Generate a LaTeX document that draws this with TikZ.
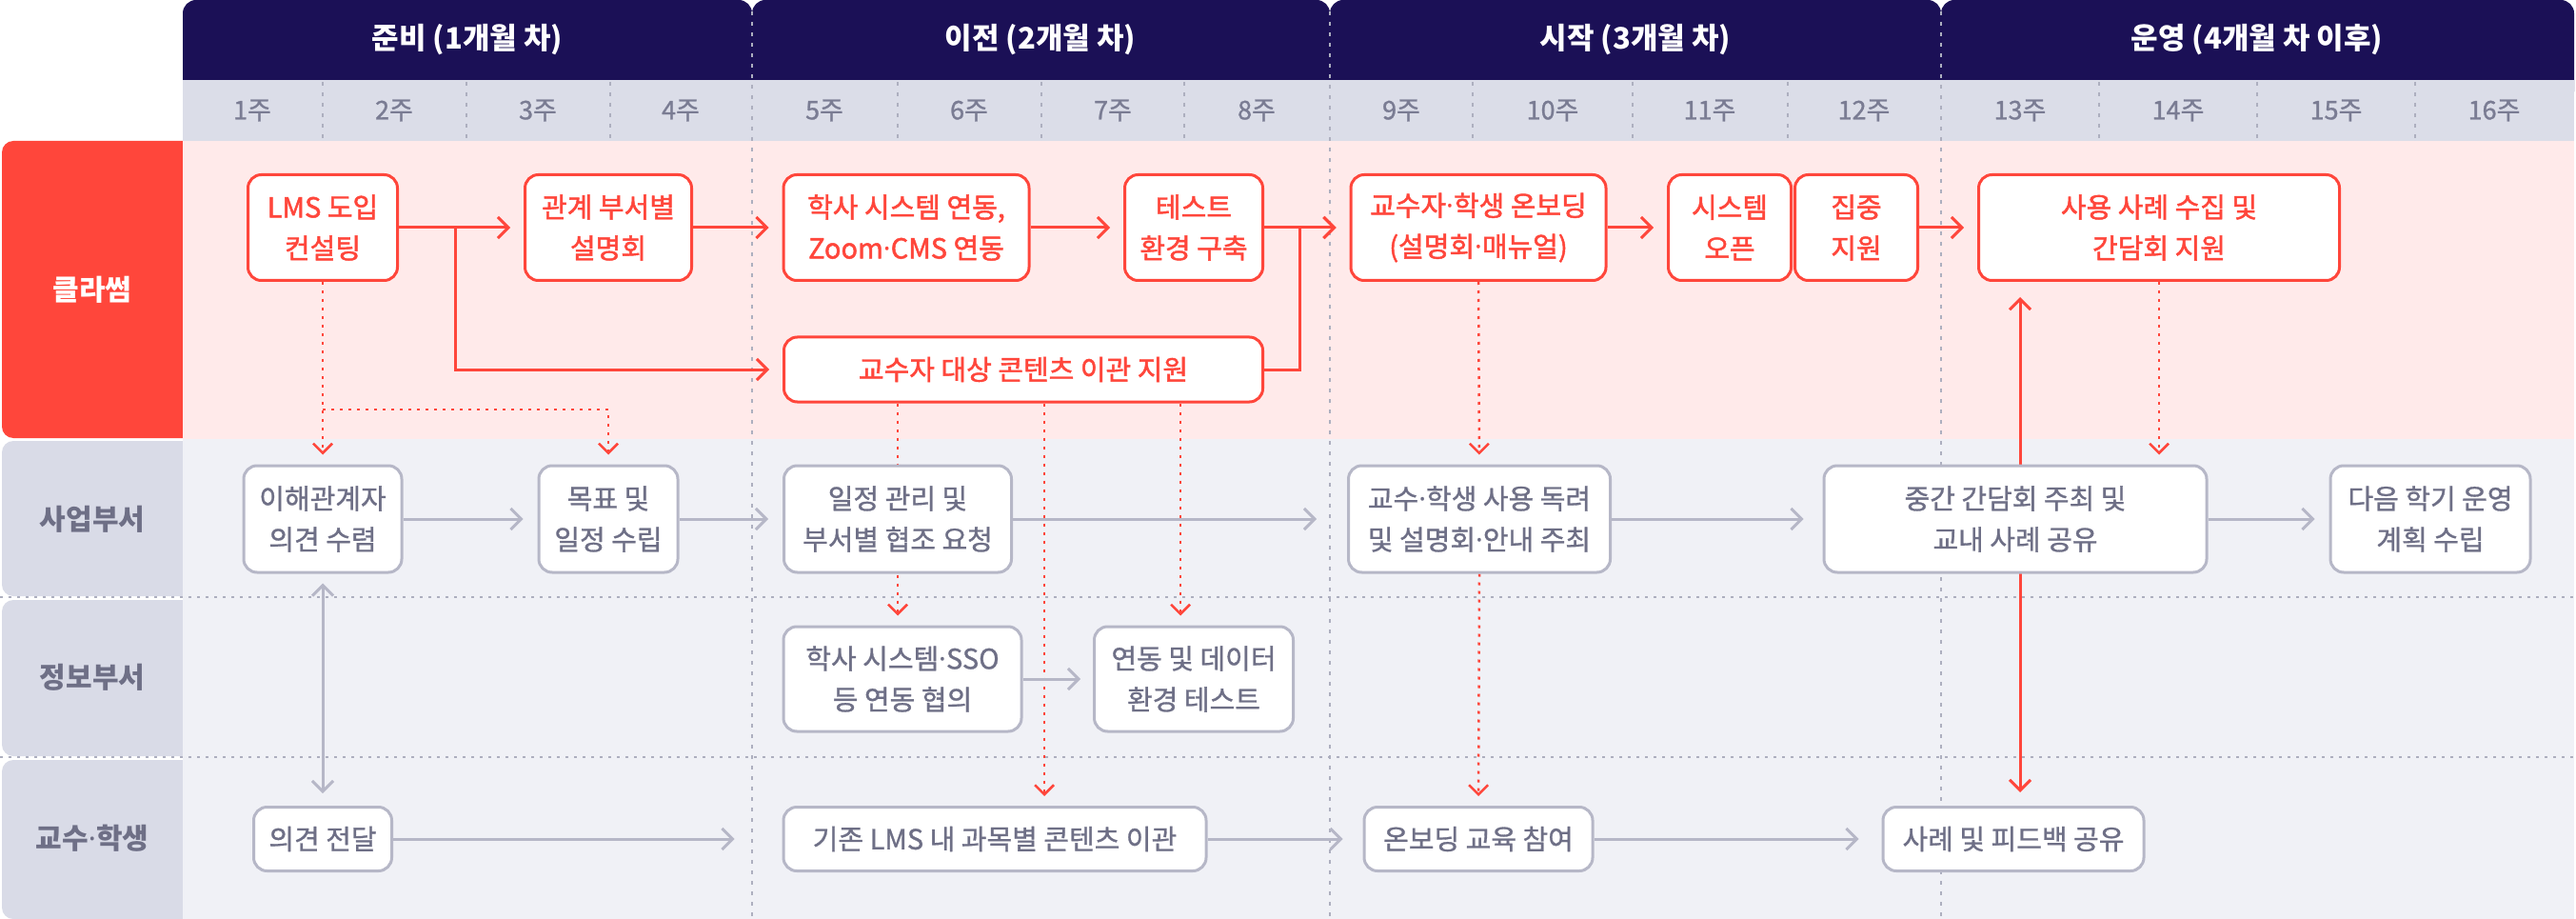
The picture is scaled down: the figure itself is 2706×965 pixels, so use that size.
\documentclass[tikz,border=0pt]{standalone}
\usepackage{fontspec}
\setmainfont{Noto Sans CJK KR}
\newfontfamily\redfont{Noto Sans CJK KR}[FakeBold=1.6]
\newfontfamily\grayfont{Noto Sans CJK KR}[FakeBold=1.0]
\newfontfamily\dotfont{Noto Sans}
\newcommand{\mdot}{{\dotfont ·}}
\usepackage{tikz}
\usetikzlibrary{arrows.meta, positioning, calc}
\definecolor{navyHead}{HTML}{1B1056}
\definecolor{weekGray}{HTML}{DBDDE8}
\definecolor{weekText}{HTML}{7A7C93}
\definecolor{classRed}{HTML}{FF463B}
\definecolor{lanePink}{HTML}{FFEAEA}
\definecolor{laneGray}{HTML}{F0F1F6}
\definecolor{labelGray}{HTML}{D9DBE7}
\definecolor{textGray}{HTML}{6E6F86}
\definecolor{lineGray}{HTML}{B6B7C7}
\definecolor{divGray}{HTML}{ADAFBF}
\pgfdeclarelayer{lane}
\pgfdeclarelayer{link}
\pgfsetlayers{lane,link,main}

\begin{document}
\begin{tikzpicture}[x=1pt, y=-1pt,
    redBox/.style={draw=classRed, line width=3pt, fill=white, rounded corners=14pt, text=classRed, align=center, inner sep=0pt, font=\redfont\fontsize{29}{43}\selectfont},
    grayBox/.style={draw=lineGray, line width=3pt, fill=white, rounded corners=14pt, text=textGray, align=center, inner sep=0pt, font=\grayfont\fontsize{29}{43}\selectfont},
    redArrow/.style={draw=classRed, line width=3pt, -{Straight Barb[length=11pt,width=22pt]}, shorten >=14pt},
    dotArrow/.style={draw=classRed, line width=2.5pt, dash pattern=on 3pt off 6pt, -{Straight Barb[length=10pt,width=20pt]}, shorten >=10pt},
    grayArrow/.style={draw=lineGray, line width=3pt, -{Straight Barb[length=11pt,width=22pt]}, shorten >=15pt},
    laneLabel/.style={font=\fontsize{30}{36}\selectfont\bfseries, text=textGray},
    phaseLabel/.style={font=\fontsize{31}{36}\selectfont\bfseries, text=white},
    monthLine/.style={divGray, line width=2pt, dash pattern=on 4pt off 7pt},
    laneLine/.style={divGray, line width=2.5pt, dash pattern=on 3pt off 6pt}
]
    \useasboundingbox (0,0) rectangle (2706,965);

    \begin{pgfonlayer}{lane}
        % Label column
        \fill[classRed, rounded corners=12pt] (2,148) rectangle (220,460);
        \fill[labelGray, rounded corners=12pt] (2,463) rectangle (220,626);
        \fill[labelGray, rounded corners=12pt] (2,630) rectangle (220,794);
        \fill[labelGray, rounded corners=12pt] (2,798) rectangle (220,965);

        % Lanes
        \fill[lanePink] (192,148) rectangle (2704,461);
        \fill[laneGray] (192,461) rectangle (2704,965);

        % Phase tabs and week row
        \fill[navyHead, rounded corners=14pt] (192,0) rectangle (790,110);
        \fill[navyHead, rounded corners=14pt] (790,0) rectangle (1397,110);
        \fill[navyHead, rounded corners=14pt] (1397,0) rectangle (2039,110);
        \fill[navyHead, rounded corners=14pt] (2039,0) rectangle (2704,110);
        \fill[weekGray] (192,84) rectangle (2704,148);

        % Dividers
        \foreach \x in {790,1397,2039}
            \draw[monthLine] (\x,12) -- (\x,965);
        \foreach \x in {339,490,641,943,1094,1244,1547,1715,1878,2205,2371,2537}
            \draw[monthLine] (\x,86) -- (\x,148);
        \draw[laneLine] (0,627) -- (2706,627);
        \draw[laneLine] (0,795) -- (2706,795);
    \end{pgfonlayer}

    % Phases
    \node[phaseLabel] (phasePrep) at (491,42) {준비 (1개월 차)};
    \node[phaseLabel] (phaseMove) at (1093,42) {이전 (2개월 차)};
    \node[phaseLabel] (phaseStart) at (1718,42) {시작 (3개월 차)};
    \node[phaseLabel] (phaseRun) at (2371,42) {운영 (4개월 차 이후)};

    % Weeks
    \foreach \wk/\cx in {1/265,2/414,3/565,4/715,5/866,6/1018,7/1169,8/1320,9/1472,10/1631,11/1796,12/1958,13/2122,14/2288,15/2454,16/2620}
        \node[font=\grayfont\fontsize{27}{30}\selectfont, text=weekText] (week\wk) at (\cx,116) {{\wk}주};

    % Lane labels
    \node[laneLabel, text=white] (laneClass) at (97,304) {클라썸};
    \node[laneLabel] (laneBiz) at (97,545) {사업부서};
    \node[laneLabel] (laneInfo) at (97,711) {정보부서};
    \node[laneLabel] (lanePeople) at (97,880) {교수\mdot 학생};

    % Classum steps
    \node[redBox, minimum width=157pt, minimum height=111pt] (lmsConsult) at (339,239) {LMS 도입\\컨설팅};
    \node[redBox, minimum width=175pt, minimum height=111pt] (deptBrief) at (639,239) {관계 부서별\\설명회};
    \node[redBox, minimum width=258pt, minimum height=111pt] (haksaLink) at (952,239) {학사 시스템 연동,\\Zoom\mdot CMS 연동};
    \node[redBox, minimum width=145pt, minimum height=111pt] (testEnv) at (1254,239) {테스트\\환경 구축};
    \node[redBox, minimum width=503pt, minimum height=68pt] (contentMove) at (1075,388) {교수자 대상 콘텐츠 이관 지원};
    \node[redBox, minimum width=268pt, minimum height=111pt] (onboardGuide) at (1553,239) {교수자\mdot 학생 온보딩\\(설명회\mdot 매뉴얼)};
    \node[redBox, minimum width=129pt, minimum height=111pt] (sysOpen) at (1817,239) {시스템\\오픈};
    \node[redBox, minimum width=129pt, minimum height=111pt] (focusHelp) at (1950,239) {집중\\지원};
    \node[redBox, minimum width=379pt, minimum height=111pt] (caseCollect) at (2268,239) {사용 사례 수집 및\\간담회 지원};

    % Business office
    \node[grayBox, minimum width=166pt, minimum height=112pt] (stakeHear) at (339,545) {이해관계자\\의견 수렴};
    \node[grayBox, minimum width=146pt, minimum height=112pt] (goalPlan) at (639,545) {목표 및\\일정 수립};
    \node[grayBox, minimum width=239pt, minimum height=112pt] (schedReq) at (943,545) {일정 관리 및\\부서별 협조 요청};
    \node[grayBox, minimum width=275pt, minimum height=112pt] (usePromote) at (1554,545) {교수\mdot 학생 사용 독려\\및 설명회\mdot 안내 주최};
    \node[grayBox, minimum width=402pt, minimum height=112pt] (midMeet) at (2117,545) {중간 간담회 주최 및\\교내 사례 공유};
    \node[grayBox, minimum width=210pt, minimum height=112pt] (nextPlan) at (2553,545) {다음 학기 운영\\계획 수립};

    % IT office
    \node[grayBox, minimum width=250pt, minimum height=110pt] (ssoTalk) at (948,713) {학사 시스템\mdot SSO\\등 연동 협의};
    \node[grayBox, minimum width=209pt, minimum height=110pt] (dataTest) at (1254,713) {연동 및 데이터\\환경 테스트};

    % Faculty and students
    \node[grayBox, minimum width=145pt, minimum height=67pt] (opinionSend) at (339,881) {의견 전달};
    \node[grayBox, minimum width=444pt, minimum height=67pt] (legacyMove) at (1045,881) {기존 LMS 내 과목별 콘텐츠 이관};
    \node[grayBox, minimum width=240pt, minimum height=67pt] (onboardJoin) at (1553,881) {온보딩 교육 참여};
    \node[grayBox, minimum width=274pt, minimum height=67pt] (caseShare) at (2115,881) {사례 및 피드백 공유};

    \coordinate (lmsFork) at (339,430);
    \coordinate (moveDrop) at ([xshift=22pt]contentMove.south);
    \coordinate (testDrop) at ([xshift=165pt]contentMove.south);
    \coordinate (shareUp) at ([xshift=7pt]caseShare.north);

    \begin{pgfonlayer}{link}
        % Classum flow
        \draw[redArrow] (lmsConsult.east) -- (deptBrief.west);
        \draw[redArrow] (lmsConsult.east) -- ++(59,0) |- (contentMove.west);
        \draw[redArrow] (deptBrief.east) -- (haksaLink.west);
        \draw[redArrow] (haksaLink.east) -- (testEnv.west);
        \draw[redArrow] (testEnv.east) -- (onboardGuide.west);
        \draw[redArrow] (contentMove.east) -- ++(37,0) |- (onboardGuide.west);
        \draw[redArrow] (onboardGuide.east) -- (sysOpen.west);
        \draw[redArrow] (focusHelp.east) -- (caseCollect.west);
        \draw[redArrow, {Straight Barb[length=11pt,width=22pt]}-{Straight Barb[length=11pt,width=22pt]}, shorten <=14pt, shorten >=16pt] (shareUp) -- (shareUp |- caseCollect.south);

        % Dotted hand-offs
        \draw[dotArrow] (lmsConsult.south) -- (stakeHear.north);
        \draw[dotArrow] (lmsFork) -| (goalPlan.north);
        \draw[dotArrow] (schedReq.north |- contentMove.south) -- (schedReq.north |- ssoTalk.north);
        \draw[dotArrow] (moveDrop) -- (moveDrop |- legacyMove.north);
        \draw[dotArrow] (testDrop) -- (testDrop |- dataTest.north);
        \draw[dotArrow] (onboardGuide.south) -- (usePromote.north);
        \draw[dotArrow] (usePromote.south) -- (onboardJoin.north);
        \draw[dotArrow] (caseCollect.south) -- (caseCollect.south |- midMeet.north);

        % Office and user flow
        \draw[grayArrow] (stakeHear.east) -- (goalPlan.west);
        \draw[grayArrow] (goalPlan.east) -- (schedReq.west);
        \draw[grayArrow, shorten >=32pt] (schedReq.east) -- (usePromote.west);
        \draw[grayArrow, shorten >=20pt] (usePromote.east) -- (midMeet.west);
        \draw[grayArrow] (midMeet.east) -- (nextPlan.west);
        \draw[grayArrow, shorten >=13pt] (ssoTalk.east) -- (dataTest.west);
        \draw[grayArrow, {Straight Barb[length=11pt,width=22pt]}-{Straight Barb[length=11pt,width=22pt]}, shorten <=10pt, shorten >=13pt] (stakeHear.south) -- (opinionSend.north);
        \draw[grayArrow, shorten >=50pt] (opinionSend.east) -- (legacyMove.west);
        \draw[grayArrow, shorten >=21pt] (legacyMove.east) -- (onboardJoin.west);
        \draw[grayArrow, shorten >=24pt] (onboardJoin.east) -- (caseShare.west);
    \end{pgfonlayer}
\end{tikzpicture}
\end{document}
